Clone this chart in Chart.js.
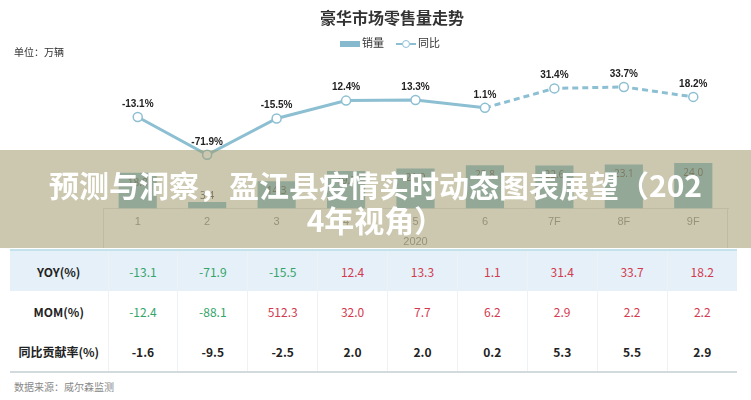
<!DOCTYPE html>
<html lang="zh">
<head>
<meta charset="UTF-8">
<title>豪华市场零售量走势</title>
<style>
  body { margin: 0; background: #fff; font-family: "Noto Sans CJK SC", "Noto Sans", sans-serif; }
  #wrap { position: relative; width: 751px; height: 400px; overflow: hidden; }
  #chartBox { position: absolute; left: 0; top: 0; width: 751px; height: 253px; }
  .title { position: absolute; top: 5px; left: 292px; width: 200px; text-align: center; font-size: 16px; font-weight: bold; color: #333; }
  .legend { position: absolute; top: 34px; left: 340px; font-size: 11px; color: #333; white-space: nowrap; }
  .legend .bar { display: inline-block; width: 20px; height: 6px; background: #86b9cd; vertical-align: middle; margin-right: 2px; }
  .legend .ln { display: inline-block; position: relative; width: 20px; height: 0; border-top: 2px dashed #8dbfd2; vertical-align: middle; margin: 0 2px 0 12px; }
  .legend .ln i { position: absolute; left: 6px; top: -5px; width: 6px; height: 6px; border: 1.5px solid #8dbfd2; border-radius: 50%; background: #fff; }
  .unit { position: absolute; top: 44px; left: 14px; font-size: 10px; color: #333; }
  .banner { position: absolute; left: 0; top: 150px; width: 751px; height: 98px; box-sizing: border-box; padding: 17px 45px 0; background: rgba(160,155,110,0.55); color: #fff; font-size: 30px; font-weight: bold; line-height: 35px; text-align: center; word-break: break-all; }
  table { position: absolute; left: 10px; top: 249px; width: 727px; border-collapse: collapse; table-layout: fixed; font-size: 12px; background: #fff; }
  td { height: 40px; padding: 0; text-align: center; border-left: 1px solid #eef2f5; }
  tr:first-child td { background: #e5f0f8; border-top: 2px solid #c4e2ea; }
  tr:last-child td { border-bottom: 2px solid #d3dadd; }
  td.lab { font-weight: bold; color: #222; border-left: none; }
  .neg { color: #34a56a; }
  .pos { color: #d33a4f; }
  .plain { color: #222; font-weight: bold; }
  .source { position: absolute; top: 379px; left: 14px; font-size: 10px; color: #888; }
</style>
</head>
<body>
<div id="wrap">
  <div id="chartBox"><canvas id="myChart"></canvas></div>
  <div class="title">豪华市场零售量走势</div>
  <div class="legend"><span class="bar"></span>销量<span class="ln"><i></i></span>同比</div>
  <div class="unit">单位：万辆</div>
  <div class="banner">预测与洞察，盈江县疫情实时动态图表展望（2024年视角）</div>
  <table id="tbl"></table>
  <div class="source">数据来源：威尔森监测</div>
</div>
<script src="https://cdn.jsdelivr.net/npm/chart.js@4.4.0/dist/chart.umd.min.js"></script>
<script>
  const categories = ['1', '2', '3', '4', '5', '6', '7F', '8F', '9F'];
  const yearLabel = '2020';
  const sales = [18.8, 3.4, 14.3, 19.8, 21.0, 22.8, 22.6, 23.1, 24.0];
  const yoy = [-13.1, -71.9, -15.5, 12.4, 13.3, 1.1, 31.4, 33.7, 18.2];
  const mom = [-12.4, -88.1, 512.3, 32.0, 7.7, 6.2, 2.9, 2.2, 2.2];
  const contrib = [-1.6, -9.5, -2.5, 2.0, 2.0, 0.2, 5.3, 5.5, 2.9];
  const rowLabels = ['YOY(%)', 'MOM(%)', '同比贡献率(%)'];

  // table under the chart
  const tbl = document.getElementById('tbl');
  let html = '<colgroup><col style="width:98px">' + categories.map(() => '<col>').join('') + '</colgroup>';
  [yoy, mom, contrib].forEach(function (row, r) {
    html += '<tr><td class="lab">' + rowLabels[r] + '</td>';
    row.forEach(function (v) {
      const cls = r === 2 ? 'plain' : (v < 0 ? 'neg' : 'pos');
      html += '<td class="' + cls + '">' + v.toFixed(1) + '</td>';
    });
    html += '</tr>';
  });
  tbl.innerHTML = html;

  const valueLabels = {
    id: 'valueLabels',
    afterDatasetsDraw(chart) {
      const c = chart.ctx;
      c.save();
      c.textAlign = 'center';
      c.textBaseline = 'middle';
      // bar values
      c.font = '10px "Noto Sans", sans-serif';
      c.fillStyle = '#555';
      chart.getDatasetMeta(0).data.forEach(function (bar, i) {
        const h = bar.base - bar.y;
        const y = h > 20 ? bar.y + 10 : bar.y - 6;
        c.fillText(sales[i].toFixed(1), bar.x, y);
      });
      // yoy labels
      c.font = 'bold 10px "Liberation Sans", sans-serif';
      c.fillStyle = '#222';
      chart.getDatasetMeta(1).data.forEach(function (pt, i) {
        c.fillText(yoy[i].toFixed(1) + '%', pt.x, pt.y - 13);
      });
      // side lines of the category box
      const a = chart.chartArea;
      c.strokeStyle = '#e2e2e2';
      c.lineWidth = 1;
      c.beginPath();
      c.moveTo(a.left + 0.5, a.bottom); c.lineTo(a.left + 0.5, 248);
      c.moveTo(a.right - 0.5, a.bottom); c.lineTo(a.right - 0.5, 248);
      c.stroke();
      c.restore();
    }
  };

  var ctx = document.getElementById('myChart').getContext('2d');
  new Chart(ctx, {
    type: 'bar',
    data: {
      labels: categories,
      datasets: [{
        type: 'bar',
        label: '销量',
        data: sales,
        yAxisID: 'y',
        backgroundColor: '#86b9cd',
        categoryPercentage: 1,
        barPercentage: 0.55,
        order: 1
      }, {
        type: 'line',
        label: '同比',
        data: yoy,
        yAxisID: 'y1',
        borderColor: '#8dbfd2',
        borderWidth: 3,
        pointRadius: 4.5,
        pointBorderWidth: 1.5,
        pointBackgroundColor: '#fff',
        pointBorderColor: '#8dbfd2',
        segment: {
          borderDash: function (s) { return s.p0DataIndex >= 5 ? [6, 4] : undefined; }
        },
        order: 0
      }]
    },
    options: {
      responsive: true,
      maintainAspectRatio: false,
      animation: false,
      layout: { padding: { left: 103, right: 23, top: 60, bottom: 0 } },
      plugins: { legend: { display: false }, tooltip: { enabled: false } },
      scales: {
        x: {
          grid: { display: false, drawTicks: false },
          border: { display: true, color: '#e2e2e2' },
          ticks: { color: '#888', font: { size: 11 }, padding: 7 },
          title: { display: true, text: yearLabel, color: '#888', font: { size: 11 }, padding: { top: 0, bottom: 4 } }
        },
        y: { display: false, min: 0, max: 78 },
        y1: { display: false, min: -155.7, max: 75.6 }
      }
    },
    plugins: [valueLabels]
  });
</script>
</body>
</html>
